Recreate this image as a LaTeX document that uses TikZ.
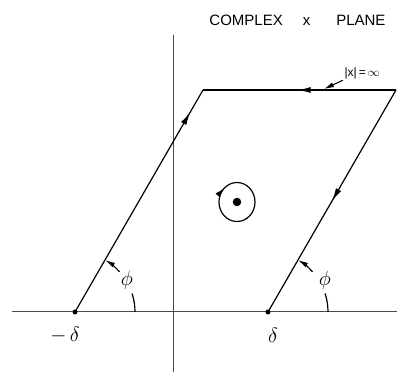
\documentclass[tikz,border=0pt]{standalone}
\usepackage{fontspec}
\setsansfont{Liberation Sans}
\usetikzlibrary{arrows.meta,decorations.markings}

\begin{document}
\begin{tikzpicture}[x=1pt,y=1pt,line width=1.2pt,>={Latex[length=10pt,width=5pt]},
  flecha/.style={postaction={decorate},decoration={markings,
    mark=at position #1 with {\arrow{Latex[length=13pt,width=6pt]}}}},
  flechainv/.style={postaction={decorate},decoration={markings,
    mark=at position #1 with {\arrowreversed{Latex[length=10pt,width=5.5pt]}}}},
  eje/.style={line width=1pt,black!70}]
  \useasboundingbox (0,0) rectangle (397,372);
  % ejes
  \draw[eje] (12,60) -- (397,60);
  \draw[eje] (173,0) -- (173,337);
  \coordinate (A) at (75,60);
  \coordinate (B) at (268,60);
  \coordinate (C) at (203,282);
  \coordinate (D) at (396,282);
  % contorno
  \draw[flecha=0.9] (A) -- (C);
  \draw[flecha=0.51] (D) -- (C);
  \draw[flecha=0.5] (D) -- (B);
  \fill (A) circle (2.5);
  \fill (B) circle (2.5);
  % polo
  \node[circle,fill,inner sep=3pt] (polo) at (237,170) {};
  \draw[flechainv=0.37] (polo) ellipse (18 and 19.5);
  % angulos
  \draw (A) ++(60,0) arc (0:18:60);
  \draw[->] (A) ++(42:60) arc (42:60:60);
  \draw (B) ++(60,0) arc (0:18:60);
  \draw[->] (B) ++(42:60) arc (42:60:60);
  \node[font=\fontsize{20}{24}\selectfont] (fi1) at (127,92) {$\phi$};
  \node[font=\fontsize{20}{24}\selectfont] (fi2) at (325,92) {$\phi$};
  \node[font=\fontsize{20}{24}\selectfont] (mdelta) at (65,37) {$-\,\delta$};
  \node[font=\fontsize{20}{24}\selectfont] (delta) at (273,37) {$\delta$};
  % textos
  \node[font=\fontsize{15}{18}\sffamily] (titulo) at (297.5,352) {COMPLEX\hspace{20pt}x\hspace{26pt}PLANE};
  \node[font=\fontsize{12}{14}\sffamily,inner sep=1pt,anchor=west] (infty) at (343,299) {|x|\,=\,$\infty$};
  \coordinate (punta) at (324,283);
  \draw[->,line width=1pt] (infty.south west) -- (punta);
\end{tikzpicture}
\end{document}
